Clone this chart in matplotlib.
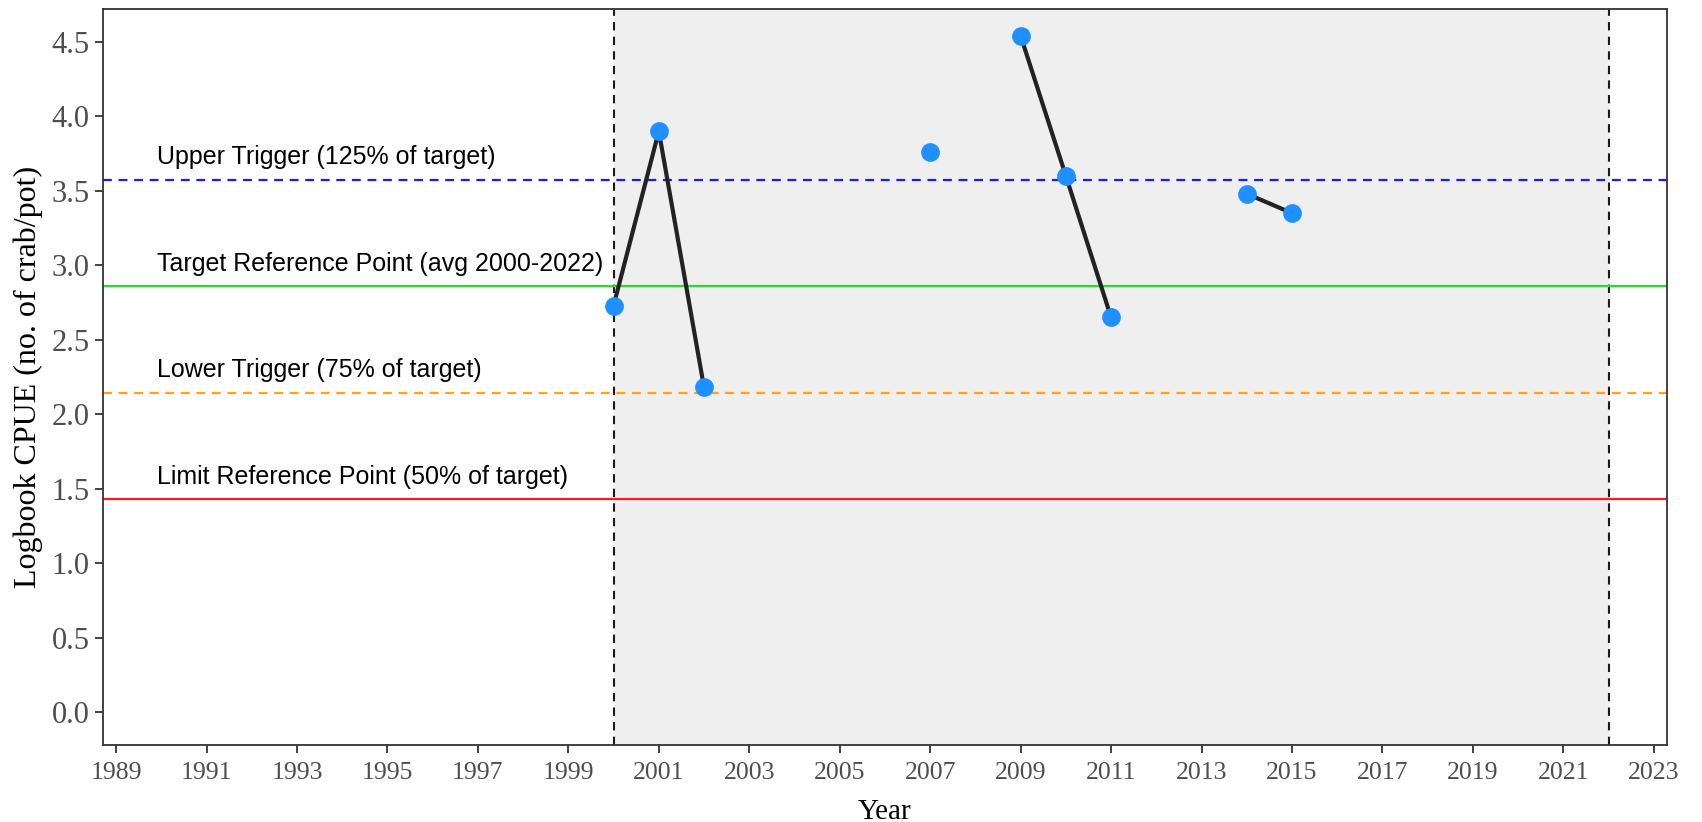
#!/usr/bin/env python3
import matplotlib
matplotlib.use("Agg")
import matplotlib.pyplot as plt
import numpy as np
import pandas as pd

# --- [ logbook CPUE with reference points ] ---

YEARS = [2000, 2001, 2002, 2007, 2009, 2010, 2011, 2014, 2015]
CPUE = [2.73, 3.90, 2.18, 3.76, 4.54, 3.60, 2.65, 3.48, 3.35]

TARGET = 2.86
REF_LINES = [
    ("Upper Trigger (125% of target)", 1.25, "#1a1aff", "--"),
    ("Target Reference Point (avg 2000-2022)", 1.00, "#22e022", "-"),
    ("Lower Trigger (75% of target)", 0.75, "#ffa31a", "--"),
    ("Limit Reference Point (50% of target)", 0.50, "#ff1a1a", "-"),
]
REF_PERIOD = (2000, 2022)
X_TICKS = list(range(1989, 2024, 2))
Y_TICKS = [0.0, 0.5, 1.0, 1.5, 2.0, 2.5, 3.0, 3.5, 4.0, 4.5]

SERIF = ["Liberation Serif", "DejaVu Serif"]
SANS = ["Liberation Sans", "DejaVu Sans"]

# full yearly series so that missing years break the line
series = pd.Series(CPUE, index=YEARS).reindex(range(min(YEARS), max(YEARS) + 1))

fig = plt.figure(figsize=(17.02, 8.22), dpi=100)
ax = fig.add_axes([0.0605, 0.0937, 0.9189, 0.8953])

ax.axvspan(REF_PERIOD[0], REF_PERIOD[1], color="#efefef", zorder=0, lw=0)
for x in REF_PERIOD:
    ax.axvline(x, color="#1a1a1a", ls=(0, (4, 3)), lw=1.5, zorder=1)

for label, frac, color, style in REF_LINES:
    level = TARGET * frac
    ls = (0, (4, 3)) if style == "--" else "-"
    ax.axhline(level, color=color, ls=ls, lw=1.6, zorder=2)
    ax.text(1989.9, level + 0.15, label, family=SANS, fontsize=18,
            ha="left", va="center", color="black")

ax.plot(series.index, series.values, color="#222222", lw=3.0, zorder=3,
        solid_capstyle="butt")
ax.plot(YEARS, CPUE, ls="none", marker="o", ms=13.5, color="#1e90ff",
        mec="none", zorder=4)

ax.set_xlim(1988.71, 2023.29)
ax.set_ylim(-0.22, 4.72)
ax.set_xticks(X_TICKS)
ax.set_yticks(Y_TICKS)
ax.set_yticklabels([f"{v:.1f}" for v in Y_TICKS])

ax.tick_params(axis="both", direction="out", length=6, width=1.3,
               color="#333333", labelcolor="#4d4d4d")
ax.tick_params(axis="x", pad=6)
for lab in ax.get_xticklabels():
    lab.set_family(SERIF)
    lab.set_fontsize(18.5)
for lab in ax.get_yticklabels():
    lab.set_family(SERIF)
    lab.set_fontsize(22)

for spine in ax.spines.values():
    spine.set_color("#333333")
    spine.set_linewidth(1.3)

ax.set_xlabel("Year", family=SERIF, fontsize=21, labelpad=11)
ax.set_ylabel("Logbook CPUE (no. of crab/pot)", family=SERIF, fontsize=23,
              labelpad=6)

fig.savefig("out.png", dpi=100)
